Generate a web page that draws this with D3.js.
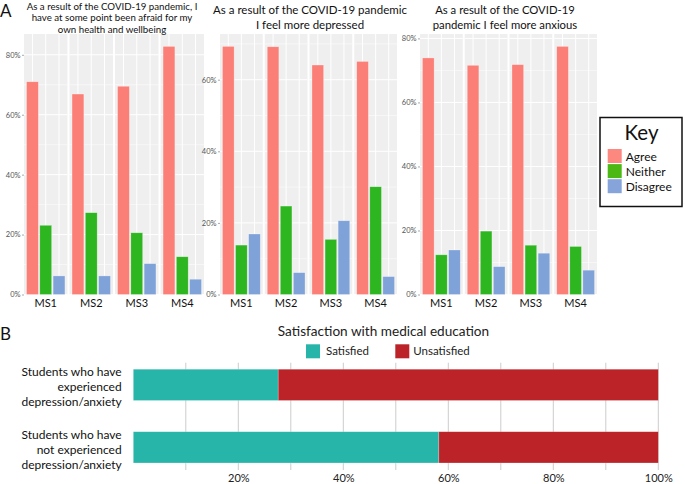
<!DOCTYPE html>
<html>
<head>
<meta charset="utf-8">
<script src="https://cdn.jsdelivr.net/npm/d3@7"></script>
<style>
  body { margin: 0; background: #fff; }
  text { font-family: Lato, "Open Sans", sans-serif; }
</style>
</head>
<body>
<div id="chart"></div>
<script>
// ---- data ----
var cohorts = ["MS1", "MS2", "MS3", "MS4"];
var responses = ["Agree", "Neither", "Disagree"];

// "afraid for my own health and wellbeing" (% of cohort)
var afraidAgree = [71.0, 66.9, 69.5, 82.8];
var afraidNeither = [23.1, 27.3, 20.6, 12.6];
var afraidDisagree = [6.2, 6.2, 10.3, 5.1];

// "I feel more depressed"
var depressedAgree = [69.3, 69.2, 64.1, 65.1];
var depressedNeither = [13.8, 24.7, 15.4, 30.1];
var depressedDisagree = [16.9, 6.1, 20.6, 5.0];

// "I feel more anxious"
var anxiousAgree = [73.9, 71.6, 71.8, 77.5];
var anxiousNeither = [12.4, 19.8, 15.4, 15.0];
var anxiousDisagree = [13.9, 8.7, 12.9, 7.6];

var afraidTicks = [0, 20, 40, 60, 80];
var depressedTicks = [0, 20, 40, 60];
var anxiousTicks = [0, 20, 40, 60, 80];

var afraidTitle = ["As a result of the COVID-19 pandemic, I", "have at some point been afraid for my", "own health and wellbeing"];
var depressedTitle = ["As a result of the COVID-19 pandemic", "I feel more depressed"];
var anxiousTitle = ["As a result of the COVID-19", "pandemic I feel more anxious"];

// panel B: satisfaction with medical education (%)
var groups = ["experienced", "not experienced"];
var groupLabels = [
  ["Students who have", "experienced", "depression/anxiety"],
  ["Students who have", "not experienced", "depression/anxiety"]
];
var satisfied = [27.6, 58.2];
var unsatisfied = [72.4, 41.8];
var satGrid = [10, 20, 30, 40, 50, 60, 70, 80, 90, 100];
var satTicks = [20, 40, 60, 80, 100];
var satKeys = ["Satisfied", "Unsatisfied"];

// ---- styles ----
var responseColors = ["#fb7f76", "#2db620", "#7fa2d8"];
var keyColors = ["#fc8880", "#4cb814", "#86a4d9"];
var satColors = ["#27b5aa", "#bb2328"];

var svg = d3.select("#chart")
  .append("svg")
  .attr("width", 685)
  .attr("height", 484);

// panel letters
svg.append("text").attr("x", 0).attr("y", 17).attr("font-size", 17).attr("fill", "#111").text("A");
svg.append("text").attr("x", 0).attr("y", 340).attr("font-size", 17).attr("fill", "#111").text("B");

// ---- panel A ----
var panels = [
  { title: afraidTitle, values: [afraidAgree, afraidNeither, afraidDisagree], ticks: afraidTicks,
    left: 24, right: 204, titleX: 112, titleY: 9.5, titleSize: 9.7, lineH: 11.7 },
  { title: depressedTitle, values: [depressedAgree, depressedNeither, depressedDisagree], ticks: depressedTicks,
    left: 220, right: 397, titleX: 310, titleY: 14, titleSize: 11.5, lineH: 15 },
  { title: anxiousTitle, values: [anxiousAgree, anxiousNeither, anxiousDisagree], ticks: anxiousTicks,
    left: 420, right: 597, titleX: 505, titleY: 13.5, titleSize: 11.3, lineH: 15 }
];

var plotTop = 34, plotBottom = 294.5;

panels.forEach(function(p) {
  var g = svg.append("g");

  var maxVal = d3.max(p.values, function(arr) { return d3.max(arr); });
  var y = d3.scaleLinear().domain([0, maxVal * 1.05]).range([plotBottom, plotTop]);

  var facet = d3.scaleBand().domain(cohorts).range([p.left, p.right]).paddingInner(0.045);
  var inner = d3.scaleBand().domain(responses).range([0, facet.bandwidth()])
    .paddingInner(0.11).paddingOuter(0.19);

  var minor = d3.range(10, maxVal * 1.05, 20);

  cohorts.forEach(function(c, ci) {
    var fx = facet(c);
    var fg = g.append("g").attr("transform", `translate(${fx},0)`);

    fg.append("rect")
      .attr("x", 0).attr("y", plotTop)
      .attr("width", facet.bandwidth()).attr("height", plotBottom - plotTop)
      .attr("fill", "#efefef");

    // grid
    fg.selectAll(".minor").data(minor).enter().append("line")
      .attr("x1", 0).attr("x2", facet.bandwidth())
      .attr("y1", d => y(d)).attr("y2", d => y(d))
      .attr("stroke", "#fff").attr("stroke-width", 0.5);
    fg.selectAll(".major").data(p.ticks).enter().append("line")
      .attr("x1", 0).attr("x2", facet.bandwidth())
      .attr("y1", d => y(d)).attr("y2", d => y(d))
      .attr("stroke", "#fff").attr("stroke-width", 1);
    fg.selectAll(".vgrid").data(responses).enter().append("line")
      .attr("x1", d => inner(d) + inner.bandwidth() / 2)
      .attr("x2", d => inner(d) + inner.bandwidth() / 2)
      .attr("y1", plotTop).attr("y2", plotBottom)
      .attr("stroke", "#fff").attr("stroke-width", 1);

    // bars
    fg.selectAll(".bar").data(responses).enter().append("rect")
      .attr("x", d => inner(d))
      .attr("y", (d, ri) => y(p.values[ri][ci]))
      .attr("width", inner.bandwidth())
      .attr("height", (d, ri) => plotBottom - y(p.values[ri][ci]))
      .attr("fill", (d, ri) => responseColors[ri])
      .attr("stroke", "#fff").attr("stroke-opacity", 0.45).attr("stroke-width", 0.6);

    // cohort label
    fg.append("text")
      .attr("x", facet.bandwidth() / 2).attr("y", 307)
      .attr("text-anchor", "middle")
      .attr("font-size", 11).attr("fill", "#111")
      .text(c);
  });

  // y axis
  var leftAxis = d3.axisLeft(y).tickValues(p.ticks).tickFormat(d => d + "%").tickSize(2).tickPadding(1.5);
  var ya = g.append("g").attr("transform", `translate(${p.left},0)`).call(leftAxis);
  ya.select(".domain").remove();
  ya.selectAll("line").attr("stroke", "#555").attr("stroke-width", 0.5);
  ya.selectAll("text").attr("font-size", 7.5).attr("fill", "#555").style("font-family", "Lato, sans-serif");

  // title
  g.selectAll(".title").data(p.title).enter().append("text")
    .attr("x", p.titleX)
    .attr("y", (d, i) => p.titleY + i * p.lineH)
    .attr("text-anchor", "middle")
    .attr("font-size", p.titleSize)
    .attr("fill", "#111")
    .text(d => d);
});

// key box
var key = svg.append("g");
key.append("rect")
  .attr("x", 600).attr("y", 117.5).attr("width", 82).attr("height", 89)
  .attr("fill", "#fff").attr("stroke", "#111").attr("stroke-width", 1.5);
key.append("text")
  .attr("x", 641.5).attr("y", 139.5).attr("text-anchor", "middle")
  .attr("font-size", 20.5).attr("fill", "#111").text("Key");
var keyRows = key.selectAll(".krow").data(responses).enter().append("g")
  .attr("transform", (d, i) => `translate(607.7,${149 + i * 15.1})`);
keyRows.append("rect")
  .attr("width", 14).attr("height", 14)
  .attr("fill", (d, i) => keyColors[i]);
keyRows.append("text")
  .attr("x", 18).attr("y", 11.5)
  .attr("font-size", 12).attr("fill", "#111")
  .text(d => d);

// ---- panel B ----
var xB = d3.scaleLinear().domain([0, 100]).range([133.3, 658.3]);
var yB = d3.scaleBand().domain(groups).range([353.6, 478.6]).paddingInner(0.5).paddingOuter(0.25);
var gridTop = 362.7, gridBottom = 470;

var gb = svg.append("g");

gb.selectAll(".bgrid").data(satGrid).enter().append("line")
  .attr("x1", d => xB(d)).attr("x2", d => xB(d))
  .attr("y1", gridTop).attr("y2", gridBottom)
  .attr("stroke", "#cccccc").attr("stroke-width", 1);

// stacked bars
gb.selectAll(".sat").data(groups).enter().append("rect")
  .attr("x", xB(0))
  .attr("y", d => yB(d))
  .attr("width", (d, i) => xB(satisfied[i]) - xB(0))
  .attr("height", yB.bandwidth())
  .attr("fill", satColors[0])
  .attr("stroke", "#fff").attr("stroke-opacity", 0.35).attr("stroke-width", 0.6);
gb.selectAll(".unsat").data(groups).enter().append("rect")
  .attr("x", (d, i) => xB(satisfied[i]))
  .attr("y", d => yB(d))
  .attr("width", (d, i) => xB(satisfied[i] + unsatisfied[i]) - xB(satisfied[i]))
  .attr("height", yB.bandwidth())
  .attr("fill", satColors[1])
  .attr("stroke", "#fff").attr("stroke-opacity", 0.35).attr("stroke-width", 0.6);

// x axis labels
var bottomAxis = d3.axisBottom(xB).tickValues(satTicks).tickFormat(d => d + "%").tickSize(0).tickPadding(3.7);
var xa = gb.append("g").attr("transform", `translate(0,${gridBottom})`).call(bottomAxis);
xa.select(".domain").remove();
xa.selectAll("text").attr("font-size", 11).attr("fill", "#222").style("font-family", "Lato, sans-serif");

// row labels
groups.forEach(function(gk, i) {
  var cy = yB(gk) + yB.bandwidth() / 2;
  gb.selectAll(".rl" + i).data(groupLabels[i]).enter().append("text")
    .attr("x", 121.7)
    .attr("y", (d, j) => cy + 6.5 + (j - 1) * 15)
    .attr("text-anchor", "end")
    .attr("font-size", 12).attr("fill", "#111")
    .text(d => d);
});

// title + legend
gb.append("text")
  .attr("x", 383.5).attr("y", 336).attr("text-anchor", "middle")
  .attr("font-size", 13.6).attr("fill", "#222")
  .text("Satisfaction with medical education");

var legX = [306, 395.3];
var legB = gb.selectAll(".leg").data(satKeys).enter().append("g")
  .attr("transform", (d, i) => `translate(${legX[i]},344.3)`);
legB.append("rect").attr("width", 14).attr("height", 14)
  .attr("fill", (d, i) => satColors[i]);
legB.append("text")
  .attr("x", (d, i) => i === 0 ? 20 : 18).attr("y", 11.2)
  .attr("font-size", 11.5).attr("fill", "#222")
  .text(d => d);
</script>
</body>
</html>
